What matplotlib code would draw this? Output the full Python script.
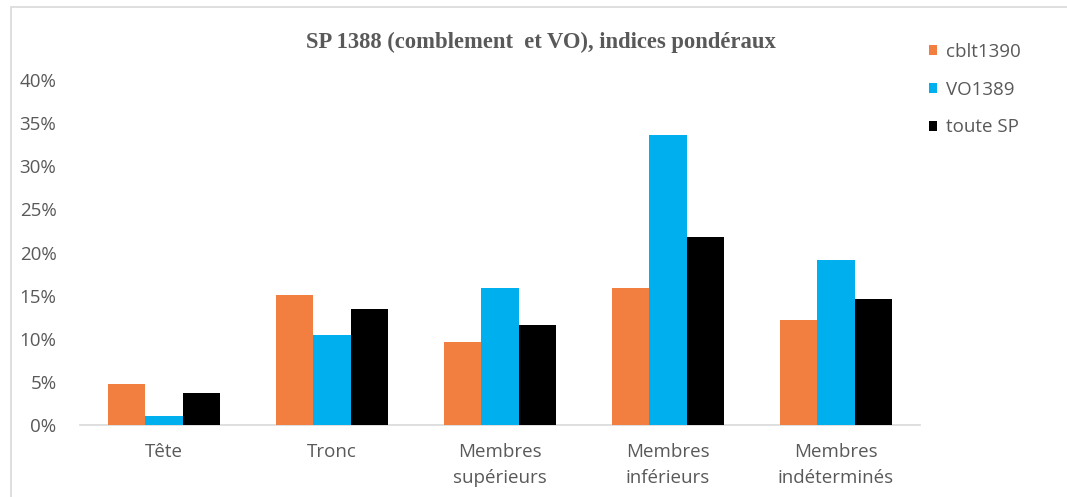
import matplotlib
matplotlib.use("Agg")
import matplotlib.pyplot as plt
import numpy as np
from matplotlib.patches import Rectangle
from matplotlib.ticker import FuncFormatter

categories = ["Tête", "Tronc", "Membres\nsupérieurs", "Membres\ninférieurs", "Membres\nindéterminés"]
series_names = ["cblt1390", "VO1389", "toute SP"]
cblt1390 = [4.8, 15.1, 9.6, 15.9, 12.2]
vo1389 = [1.0, 10.4, 15.9, 33.6, 19.1]
toute_sp = [3.7, 13.4, 11.6, 21.8, 14.6]
colors = ["#F27F3F", "#00B0EE", "#000000"]
yticks = [0, 5, 10, 15, 20, 25, 30, 35, 40]

FONT = "Open Sans"
FS = 13.5
GREY = "#595959"

W, H = 1067, 497
fig = plt.figure(figsize=(W / 100, H / 100), dpi=100)
fig.patch.set_facecolor("white")

# outer frame
fig.add_artist(Rectangle((11 / W, -0.01), 1.1, (H - 7) / H + 0.01, transform=fig.transFigure,
                         fill=False, edgecolor="#D9D9D9", linewidth=1.2))

ax = fig.add_axes([80 / W, (H - 425) / H, 840 / W, 345 / H])
x = np.arange(len(categories))
bw = 2 / 9
for i, (vals, c, name) in enumerate(zip([cblt1390, vo1389, toute_sp], colors, series_names)):
    ax.bar(x + (i - 1) * bw, vals, width=bw, color=c, label=name, zorder=3)

ax.set_xlim(-0.5, len(categories) - 0.5)
ax.set_ylim(0, 40)
ax.set_yticks(yticks)
ax.yaxis.set_major_formatter(FuncFormatter(lambda v, p: f"{int(v)}%"))
ax.set_xticks(x)
ax.set_xticklabels(categories, fontfamily=FONT, fontsize=FS, color=GREY, linespacing=1.55)
for lab in ax.get_yticklabels():
    lab.set_fontfamily(FONT)
    lab.set_fontsize(FS)
    lab.set_color(GREY)
ax.tick_params(axis="both", length=0)
ax.tick_params(axis="y", pad=17)
ax.tick_params(axis="x", pad=13)
for s in ["top", "right", "left"]:
    ax.spines[s].set_visible(False)
ax.spines["bottom"].set_color("#D9D9D9")
ax.spines["bottom"].set_linewidth(1.2)

fig.text(541 / W, 1 - 42 / H, "SP 1388 (comblement  et VO), indices pondéraux",
         ha="center", va="center", fontfamily="Liberation Serif", fontweight="bold",
         fontsize=16.3, color=GREY)

leg = fig.legend(loc="upper left", bbox_to_anchor=(912 / W, 1 - 26 / H), frameon=False,
                 prop={"family": FONT, "size": FS}, handlelength=0.45, handleheight=0.45,
                 handletextpad=0.45, labelspacing=1.05)
for t in leg.get_texts():
    t.set_color(GREY)

fig.savefig("out.png", dpi=100, facecolor="white")
